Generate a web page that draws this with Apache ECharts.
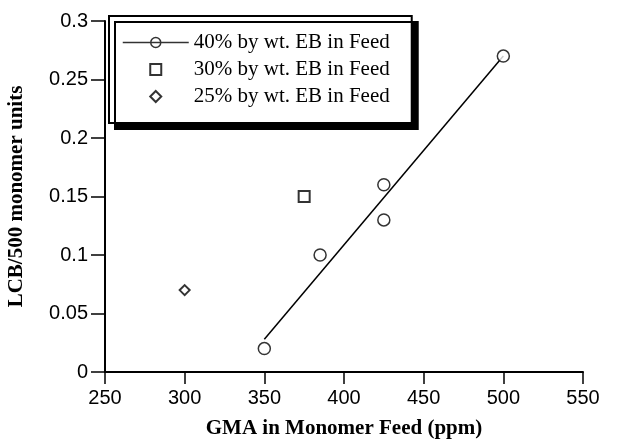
<!doctype html>
<html>
  <head>
    <meta charset="utf-8">
    <script src="https://cdn.jsdelivr.net/npm/echarts@6/dist/echarts.min.js"></script>
  </head>
  <body style="margin:0;background:#fff;">
    <div id="main" style="width:617px;height:439px;"></div>
  </body>
  <script>
   // data
   var name40 = '40% by wt. EB in Feed';
   var name30 = '30% by wt. EB in Feed';
   var name25 = '25% by wt. EB in Feed';
   var gma40 = [350, 385, 425, 425, 500];
   var lcb40 = [0.02, 0.10, 0.16, 0.13, 0.27];
   var gma30 = [375];
   var lcb30 = [0.15];
   var gma25 = [300];
   var lcb25 = [0.07];
   // fitted line through the 40% points, ends as drawn
   var fitX = [350, 500];
   var fitY = [0.028, 0.27];

   function pairs(xs, ys) {
     var out = [];
     for (var i = 0; i < xs.length; i++) out.push([xs[i], ys[i]]);
     return out;
   }

   var chart = echarts.init(document.getElementById('main'));
   var ink = '#000';
   var markStyle = {color: '#fff', borderColor: ink, borderWidth: 1.5};
   // legend icons as paths so they keep their aspect
   var lineCircle = 'path://M0,6 L66,6 M28,6 A5,5 0 1,1 38,6 A5,5 0 1,1 28,6 Z';
   var squareIcon = 'path://M0,0 L10,0 L10,10 L0,10 Z';
   var diamondIcon = 'path://M5,0 L10,5 L5,10 L0,5 Z';

   var option = {
     backgroundColor: '#fff',
     animation: false,
     grid: {left: 105, right: 34, top: 21, bottom: 67, outerBoundsMode: 'none', containLabel: false},
     legend: {
       orient: 'vertical',
       left: 109,
       top: 16,
       padding: [16, 22, 16, 13],
       itemGap: 6,
       itemWidth: 66,
       itemHeight: 11,
       selectedMode: false,
       backgroundColor: '#fff',
       borderColor: ink,
       borderWidth: 2,
       borderRadius: 0,
       shadowColor: ink,
       shadowBlur: 0,
       shadowOffsetX: 6,
       shadowOffsetY: 6,
       textStyle: {fontFamily: 'Liberation Serif', fontSize: 21, color: ink},
       data: [
         {name: name40, icon: lineCircle, itemStyle: markStyle},
         {name: name30, icon: squareIcon, itemStyle: {color: '#fff', borderColor: ink, borderWidth: 2}},
         {name: name25, icon: diamondIcon, itemStyle: {color: '#fff', borderColor: ink, borderWidth: 2}}
       ]
     },
     xAxis: {
       type: 'value',
       min: 250, max: 550, interval: 50,
       name: 'GMA in Monomer Feed (ppm)',
       nameLocation: 'middle',
       nameGap: 46,
       nameTextStyle: {fontFamily: 'Liberation Serif', fontWeight: 'bold', fontSize: 21, color: ink},
       axisLine: {lineStyle: {color: ink, width: 2}},
       axisTick: {length: 12, lineStyle: {color: ink, width: 1.5}},
       axisLabel: {fontFamily: 'Liberation Sans', fontSize: 20, color: ink, margin: 16},
       splitLine: {show: false}
     },
     yAxis: {
       type: 'value',
       min: 0, max: 0.3, interval: 0.05,
       name: 'LCB/500 monomer units',
       nameLocation: 'middle',
       nameGap: 78,
       nameTextStyle: {fontFamily: 'Liberation Serif', fontWeight: 'bold', fontSize: 21, color: ink},
       axisLine: {lineStyle: {color: ink, width: 2}},
       axisTick: {length: 14, lineStyle: {color: ink, width: 1.5}},
       axisLabel: {fontFamily: 'Liberation Sans', fontSize: 20, color: ink, margin: 17},
       splitLine: {show: false}
     },
     series: [
       {
         name: 'fit',
         type: 'line',
         data: pairs(fitX, fitY),
         showSymbol: false,
         lineStyle: {color: ink, width: 1.5},
         z: 1
       },
       {
         name: name40,
         type: 'scatter',
         data: pairs(gma40, lcb40),
         symbol: 'circle',
         symbolSize: 12,
         itemStyle: markStyle,
         z: 2
       },
       {
         name: name30,
         type: 'scatter',
         data: pairs(gma30, lcb30),
         symbol: 'rect',
         symbolSize: 11,
         itemStyle: {color: '#fff', borderColor: ink, borderWidth: 2},
         z: 2
       },
       {
         name: name25,
         type: 'scatter',
         data: pairs(gma25, lcb25),
         symbol: 'diamond',
         symbolSize: 10,
         itemStyle: {color: '#fff', borderColor: ink, borderWidth: 2},
         z: 2
       }
     ]
   };
   chart.setOption(option);
  </script>
</html>
